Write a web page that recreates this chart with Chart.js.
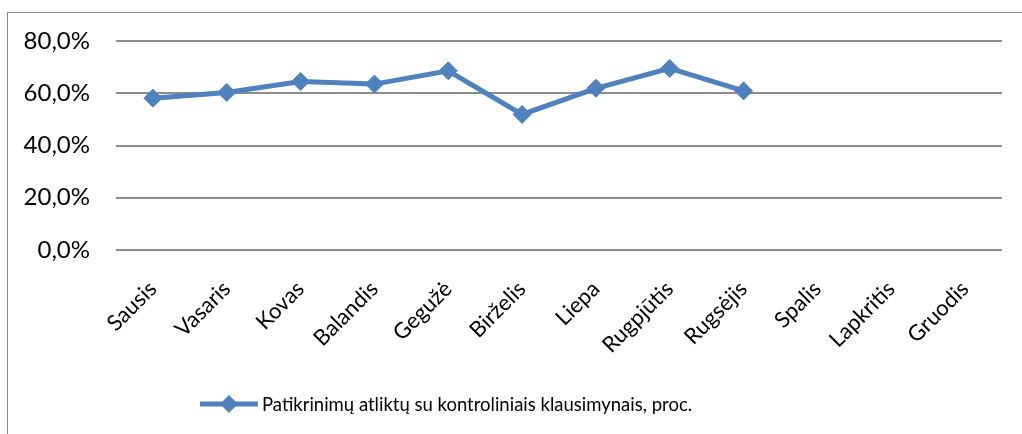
<!DOCTYPE html>
<html>
<head>
<meta charset="utf-8">
<script src="https://cdn.jsdelivr.net/npm/chart.js@4"></script>
<style>
  body { margin: 0; background: #fff; }
  #wrap { position: relative; width: 1022px; height: 434px; overflow: hidden; }
  #frame { position: absolute; left: 7px; top: 12px; width: 1100px; height: 500px;
           border-left: 1px solid #8c8c8c; border-top: 1px solid #8c8c8c; }
  #chart { position: absolute; left: 0; top: 0; }
  #legend { position: absolute; left: 200px; top: 392px; display: flex; align-items: center;
            font-family: Lato, sans-serif; font-size: 18.5px; color: #000; white-space: nowrap; }
  #legend svg { margin-right: 4px; }
</style>
</head>
<body>
<div id="wrap">
  <div id="frame"></div>
  <canvas id="chart" width="1022" height="434"></canvas>
  <div id="legend">
    <svg width="58" height="24"><line x1="1" y1="12" x2="57" y2="12" stroke="#4f81bd" stroke-width="5" stroke-linecap="round"/><polygon points="29,3 38,12 29,21 20,12" fill="#4f81bd"/></svg>
    <span id="legend-text"></span>
  </div>
</div>
<script>
// Mėnesiai (kategorijos)
const menesiai = ['Sausis', 'Vasaris', 'Kovas', 'Balandis', 'Gegužė', 'Birželis',
  'Liepa', 'Rugpjūtis', 'Rugsėjis', 'Spalis', 'Lapkritis', 'Gruodis'];

// Patikrinimų dalis, proc.
const reiksmes = [58.1, 60.3, 64.5, 63.5, 68.6, 51.9, 61.9, 69.5, 60.9, null, null, null];

// Y ašies žymės
const yZymes = [0, 20, 40, 60, 80];

const serijosPavadinimas = 'Patikrinimų atliktų su kontroliniais klausimynais, proc.';
document.getElementById('legend-text').textContent = serijosPavadinimas;

const spalva = '#4f81bd';

const ctx = document.getElementById('chart').getContext('2d');
new Chart(ctx, {
  type: 'line',
  data: {
    labels: menesiai,
    datasets: [{
      label: serijosPavadinimas,
      data: reiksmes,
      borderColor: spalva,
      backgroundColor: spalva,
      borderWidth: 5,
      pointStyle: 'rectRot',
      pointRadius: 9,
      pointBorderWidth: 1,
      fill: false,
      tension: 0
    }]
  },
  options: {
    responsive: false,
    animation: false,
    layout: { padding: { top: 41, right: 20, left: 0, bottom: 0 } },
    plugins: {
      legend: { display: false },
      tooltip: { enabled: false }
    },
    scales: {
      x: {
        offset: true,
        grid: { display: false, drawTicks: false },
        border: { display: false },
        ticks: {
          color: '#000',
          font: { family: 'Lato, sans-serif', size: 22 },
          minRotation: 45,
          maxRotation: 45,
          padding: 26,
          autoSkip: false
        },
        afterFit: (scale) => { scale.height = 184; }
      },
      y: {
        min: 0,
        max: 80,
        afterBuildTicks: (scale) => { scale.ticks = yZymes.map(v => ({ value: v })); },
        grid: { color: '#8c8c8c', lineWidth: 2, drawTicks: false },
        border: { display: false },
        ticks: {
          color: '#000',
          font: { family: 'Lato, sans-serif', size: 24 },
          padding: 26,
          callback: (v) => v.toFixed(1).replace('.', ',') + '%'
        },
        afterFit: (scale) => { scale.width = 116; }
      }
    }
  }
});
</script>
</body>
</html>
